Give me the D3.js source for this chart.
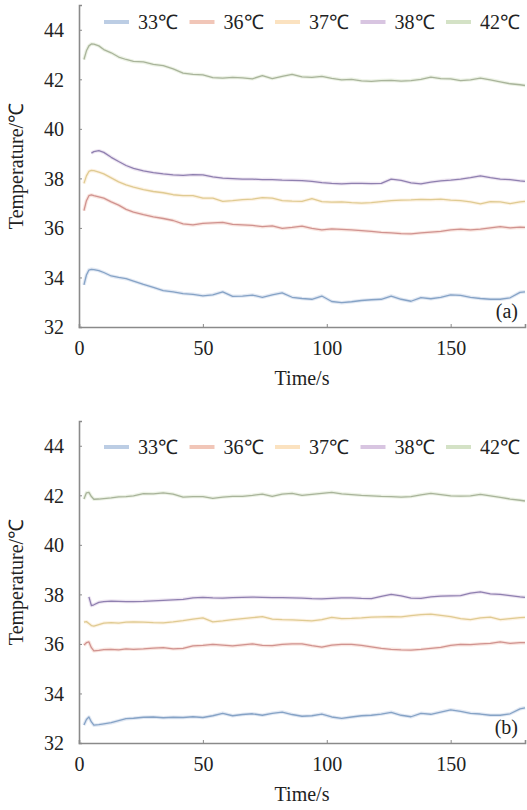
<!DOCTYPE html>
<html><head><meta charset="utf-8">
<script src="https://cdn.jsdelivr.net/npm/d3@7"></script>
<style>
html,body{margin:0;padding:0;background:#fff;}
</style></head>
<body><svg id="chart" width="527" height="810"></svg>
<script>
const seriesNames = ["33℃","36℃","37℃","38℃","42℃"];
const xTicks = [0,50,100,150];
const yTicks = [32,34,36,38,40,42,44];
const time = [2,3,4,5,6,8,10,13,16,19,22,26,30,34,38,42,46,50,54,58,62,66,70,74,78,82,86,90,94,98,102,106,110,114,118,122,126,130,134,138,142,146,150,154,158,162,166,170,174,178,180];

// panel (a)
const a33 = [33.7,34.1,34.3,34.33,34.32,34.28,34.2,34.06,34.0,33.95,33.85,33.72,33.6,33.47,33.42,33.35,33.32,33.26,33.3,33.42,33.24,33.25,33.29,33.2,33.3,33.38,33.2,33.15,33.12,33.25,33.03,32.98,33.02,33.07,33.1,33.12,33.25,33.12,33.04,33.19,33.14,33.2,33.3,33.28,33.2,33.15,33.12,33.12,33.18,33.4,33.42];
const a36 = [36.7,37.1,37.3,37.33,37.3,37.25,37.2,37.05,36.92,36.75,36.64,36.54,36.45,36.38,36.3,36.16,36.12,36.18,36.2,36.22,36.14,36.12,36.1,36.05,36.08,35.98,36.02,36.07,35.98,35.92,35.96,35.94,35.92,35.89,35.86,35.82,35.8,35.77,35.76,35.8,35.83,35.86,35.92,35.95,35.92,35.95,36.0,36.05,36.0,36.03,36.02];
const a37 = [37.8,38.1,38.28,38.32,38.31,38.25,38.18,38.02,37.86,37.74,37.65,37.55,37.47,37.42,37.34,37.3,37.3,37.2,37.2,37.07,37.1,37.14,37.16,37.22,37.2,37.1,37.08,37.07,37.18,37.06,37.04,37.05,37.02,37.0,37.02,37.06,37.1,37.12,37.13,37.15,37.14,37.16,37.12,37.1,37.05,36.97,37.06,37.05,36.98,37.05,37.07];
const a38 = [null,null,null,39.02,39.08,39.12,39.05,38.85,38.68,38.52,38.4,38.3,38.23,38.18,38.14,38.12,38.15,38.14,38.06,38.01,37.99,37.97,37.97,37.95,37.95,37.93,37.92,37.91,37.88,37.83,37.8,37.78,37.8,37.8,37.79,37.8,37.97,37.92,37.82,37.78,37.85,37.9,37.93,37.97,38.03,38.1,38.03,37.97,37.95,37.9,37.88];
const a42 = [42.8,43.15,43.35,43.43,43.42,43.35,43.2,43.07,42.9,42.8,42.72,42.7,42.6,42.55,42.42,42.25,42.2,42.18,42.07,42.05,42.08,42.06,42.02,42.15,42.03,42.12,42.2,42.1,42.08,42.12,42.04,41.98,42.0,41.94,41.92,41.95,41.96,41.93,41.95,42.0,42.09,42.03,42.02,41.95,41.98,42.05,41.98,41.9,41.82,41.78,41.75];

// panel (b)
const b33 = [32.73,32.95,33.05,32.85,32.72,32.74,32.77,32.82,32.9,32.98,33.0,33.04,33.05,33.02,33.04,33.03,33.06,33.03,33.1,33.2,33.1,33.15,33.18,33.12,33.2,33.25,33.15,33.08,33.1,33.17,33.05,32.99,33.05,33.1,33.12,33.17,33.24,33.12,33.06,33.2,33.16,33.25,33.34,33.28,33.2,33.17,33.12,33.12,33.18,33.38,33.42];
const b36 = [35.95,36.05,36.08,35.85,35.72,35.74,35.77,35.78,35.76,35.8,35.78,35.8,35.83,35.85,35.8,35.82,35.92,35.94,35.98,35.95,35.92,35.96,36.0,35.94,35.93,35.98,36.0,36.0,35.93,35.87,35.95,35.98,35.98,35.94,35.88,35.82,35.78,35.76,35.75,35.78,35.82,35.86,35.94,35.98,35.97,36.0,36.02,36.08,36.02,36.05,36.05];
const b37 = [36.88,36.9,36.82,36.74,36.72,36.78,36.84,36.86,36.84,36.88,36.89,36.88,36.86,36.85,36.89,36.94,37.0,37.05,36.89,36.93,36.98,37.02,37.06,37.1,37.0,36.98,36.97,36.95,36.93,36.98,37.07,37.02,37.03,37.05,37.08,37.09,37.1,37.09,37.14,37.18,37.2,37.15,37.1,37.02,36.98,37.05,37.08,36.98,37.02,37.06,37.07];
const b38 = [null,null,37.9,37.55,37.58,37.68,37.71,37.73,37.72,37.71,37.71,37.72,37.74,37.76,37.78,37.8,37.86,37.88,37.86,37.85,37.87,37.88,37.89,37.88,37.87,37.87,37.86,37.85,37.83,37.82,37.84,37.86,37.86,37.84,37.83,37.92,38.0,37.94,37.85,37.84,37.9,37.93,37.94,37.95,38.05,38.1,38.02,38.0,37.95,37.9,37.88];
const b42 = [41.85,42.1,42.12,41.95,41.84,41.85,41.87,41.9,41.94,41.95,41.98,42.07,42.06,42.1,42.05,41.93,41.95,41.95,41.88,41.93,41.96,41.96,42.0,42.05,41.96,42.05,42.08,42.0,42.04,42.08,42.12,42.06,42.03,42.0,41.98,41.96,41.95,41.93,41.95,42.02,42.08,42.03,41.98,41.97,41.98,42.04,41.98,41.92,41.85,41.8,41.77];

const lineColors = ["#86a3c6","#d09390","#dfcb92","#8f80b0","#a9b49b"];
const swatchColors = ["#bccde4","#f1c6b8","#fbe2c0","#d8c5e1","#d4e2c6"];

const panels = [
  {label:"(a)", data:[a33,a36,a37,a38,a42], top:5, bottom:327, legendY:22},
  {label:"(b)", data:[b33,b36,b37,b38,b42], top:421, bottom:743, legendY:447}
];

const FONT = "Liberation Serif";
const FS = 20;
const svg = d3.select("#chart");
const x0 = 79, x1 = 525;
const axisColor = "#8a8a8a";

panels.forEach(p => {
  const g = svg.append("g");
  const x = d3.scaleLinear().domain([0,180]).range([x0,x1]);
  const y = d3.scaleLinear().domain([32,45]).range([p.bottom,p.top]);

  const line = d3.line()
    .defined(d => d[1] != null)
    .x(d => x(d[0])).y(d => y(d[1]));
  p.data.forEach((vals,i) => {
    const pts = time.map((t,k) => [t, vals[k]]);
    g.append("path").attr("d", line(pts)).attr("fill","none")
      .attr("stroke", swatchColors[i]).attr("stroke-width",3.5).attr("stroke-opacity",0.45)
      .attr("stroke-linejoin","round");
    g.append("path").attr("d", line(pts)).attr("fill","none")
      .attr("stroke", lineColors[i]).attr("stroke-width",1.3)
      .attr("stroke-linejoin","round");
  });

  const ya = d3.axisLeft(y).tickValues(yTicks).tickSize(-3).tickPadding(15).tickFormat(d3.format("d"));
  const yg = g.append("g").attr("transform",`translate(${x0},0)`).call(ya);
  yg.attr("font-family",FONT).attr("font-size",FS);
  yg.select(".domain").attr("stroke",axisColor).attr("stroke-width",1.6);
  yg.selectAll(".tick line").attr("stroke",axisColor);
  yg.selectAll(".tick text").attr("fill","#222").attr("dy","0.34em")
    .attr("font-family",FONT).attr("font-size",FS);

  const xa = d3.axisBottom(x).tickValues(xTicks).tickSize(-3).tickPadding(14).tickFormat(d3.format("d"));
  const xg = g.append("g").attr("transform",`translate(0,${p.bottom})`).call(xa);
  xg.attr("font-family",FONT).attr("font-size",FS);
  xg.select(".domain").attr("stroke",axisColor).attr("stroke-width",1.6);
  xg.selectAll(".tick line").attr("stroke",axisColor);
  xg.selectAll(".tick text").attr("fill","#222")
    .attr("font-family",FONT).attr("font-size",FS);

  const txt = (sel) => sel.attr("font-family",FONT).attr("font-size",FS).attr("fill","#222");

  g.append("text").attr("x",(x0+x1)/2).attr("y",p.bottom+58).attr("text-anchor","middle")
    .call(txt).text("Time/s");
  g.append("text").attr("transform",`translate(23,${(p.top+p.bottom)/2}) rotate(-90)`)
    .attr("text-anchor","middle").call(txt).text("Temperature/℃");

  g.append("text").attr("x",518).attr("y",p.bottom-9).attr("text-anchor","end")
    .call(txt).text(p.label);

  seriesNames.forEach((name,i) => {
    const lx = 104 + i*85.5;
    g.append("line").attr("x1",lx).attr("x2",lx+25).attr("y1",p.legendY).attr("y2",p.legendY)
      .attr("stroke",swatchColors[i]).attr("stroke-width",4);
    g.append("text").attr("x",lx+34).attr("y",p.legendY).attr("dy","0.35em")
      .call(txt).text(name);
  });
});
</script></body></html>
